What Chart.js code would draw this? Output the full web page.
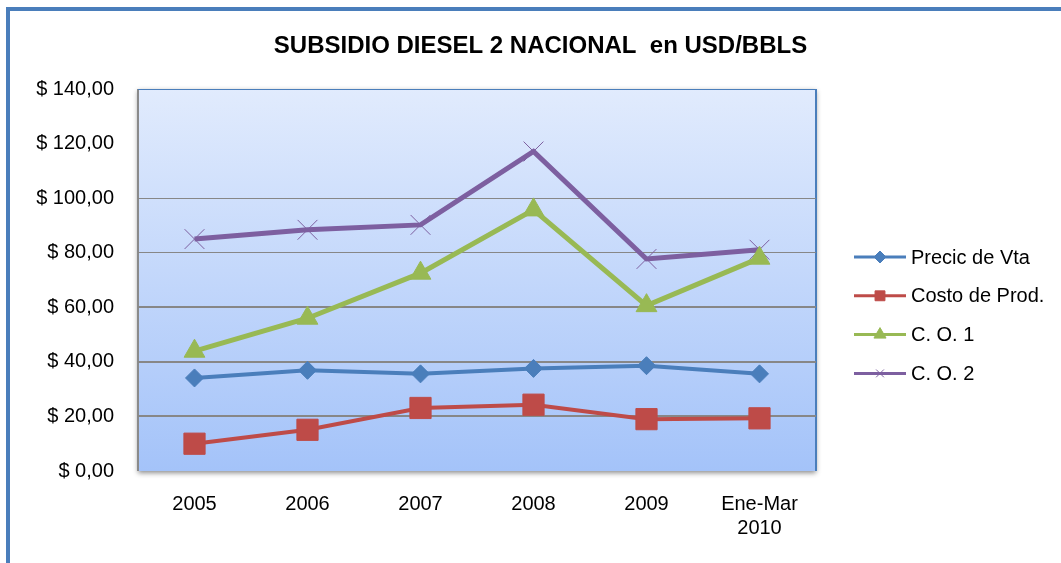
<!DOCTYPE html>
<html>
<head>
<meta charset="utf-8">
<script src="https://cdn.jsdelivr.net/npm/chart.js@4.4.1/dist/chart.umd.min.js"></script>
<style>
  html, body { margin: 0; padding: 0; background: #fff; }
  #wrap { width: 1061px; height: 563px; }
</style>
</head>
<body>
<div id="wrap"><canvas id="dieselChart" width="1061" height="563"></canvas></div>
<script>
const categories = ['2005', '2006', '2007', '2008', '2009', ['Ene-Mar', '2010']];
const precioVta = [34.1, 36.9, 35.6, 37.6, 38.6, 35.6];
const costoProd = [10.0, 15.1, 23.1, 24.3, 19.0, 19.3];
const co1 = [43.9, 56.0, 72.5, 95.7, 60.6, 78.0];
const co2 = [85.0, 88.4, 90.2, 117.1, 77.7, 81.1];
const yTickLabels = ['$ 0,00', '$ 20,00', '$ 40,00', '$ 60,00', '$ 80,00', '$ 100,00', '$ 120,00', '$ 140,00'];

const FONT = "'Liberation Sans', Arial, sans-serif";

// outer frame + plot area background with shadow
const backdrop = {
    id: 'backdrop',
    beforeDraw(chart) {
        const ctx = chart.ctx;
        const a = chart.chartArea;
        ctx.save();
        ctx.fillStyle = '#4a7ebb';
        ctx.fillRect(6, 7, chart.width, 4);
        ctx.fillRect(6, 7, 4, chart.height);

        const grad = ctx.createLinearGradient(0, a.top, 0, a.bottom);
        grad.addColorStop(0, '#e1ebfd');
        grad.addColorStop(1, '#a4c3f9');
        ctx.shadowColor = 'rgba(0,0,0,0.45)';
        ctx.shadowBlur = 5;
        ctx.shadowOffsetX = 0;
        ctx.shadowOffsetY = 2;
        ctx.fillStyle = grad;
        ctx.fillRect(a.left, a.top, a.right - a.left, a.bottom - a.top);
        ctx.restore();

        ctx.save();
        ctx.strokeStyle = '#8a8a8a';
        ctx.lineWidth = 2;
        ctx.beginPath();
        ctx.moveTo(a.left, a.top);
        ctx.lineTo(a.left, a.bottom);
        ctx.stroke();
        ctx.strokeStyle = '#4a7ebb';
        ctx.lineWidth = 1;
        ctx.beginPath();
        ctx.moveTo(a.left, a.top + 0.5);
        ctx.lineTo(a.right, a.top + 0.5);
        ctx.stroke();
        ctx.lineWidth = 2;
        ctx.beginPath();
        ctx.moveTo(a.right, a.top);
        ctx.lineTo(a.right, a.bottom);
        ctx.stroke();
        ctx.restore();
    }
};

// legend on the right: line with marker, like the spreadsheet legend
const sideLegend = {
    id: 'sideLegend',
    afterDraw(chart) {
        const ctx = chart.ctx;
        const x0 = 854, x1 = 906, tx = 911;
        const y0 = 257, step = 38.8;
        const sizes = [6, 7, 7, 5.5];
        chart.data.datasets.forEach((ds, i) => {
            const y = y0 + i * step;
            ctx.save();
            ctx.strokeStyle = ds.borderColor;
            ctx.lineWidth = 3;
            ctx.beginPath();
            ctx.moveTo(x0, y);
            ctx.lineTo(x1, y);
            ctx.stroke();
            ctx.fillStyle = ds.pointBackgroundColor;
            ctx.strokeStyle = ds.pointBorderColor;
            ctx.lineWidth = 1;
            Chart.helpers.drawPoint(ctx, {pointStyle: ds.pointStyle, radius: sizes[i], borderWidth: 1, rotation: 0}, (x0 + x1) / 2, y);
            ctx.fillStyle = '#000';
            ctx.font = '20px ' + FONT;
            ctx.textBaseline = 'middle';
            ctx.textAlign = 'left';
            ctx.fillText(ds.label, tx, y + 1);
            ctx.restore();
        });
    }
};

const ctx = document.getElementById('dieselChart').getContext('2d');
const dieselChart = new Chart(ctx, {
    type: 'line',
    data: {
        labels: categories,
        datasets: [
            {
                label: 'Precic de Vta',
                data: precioVta,
                borderColor: '#4a7ebb',
                pointBackgroundColor: '#4a7ebb',
                pointBorderColor: '#4a7ebb',
                pointStyle: 'rectRot',
                pointRadius: 9,
                borderWidth: 4,
                pointBorderWidth: 1,
            },
            {
                label: 'Costo de Prod.',
                data: costoProd,
                borderColor: '#be4b48',
                pointBackgroundColor: '#be4b48',
                pointBorderColor: '#be4b48',
                pointStyle: 'rect',
                pointRadius: 15,
                borderWidth: 4,
                pointBorderWidth: 1,
            },
            {
                label: 'C. O. 1',
                data: co1,
                borderColor: '#98b954',
                pointBackgroundColor: '#98b954',
                pointBorderColor: '#98b954',
                pointStyle: 'triangle',
                pointRadius: 12,
                borderWidth: 5,
                pointBorderWidth: 1,
            },
            {
                label: 'C. O. 2',
                data: co2,
                borderColor: '#7d5fa0',
                pointBackgroundColor: '#7d5fa0',
                pointBorderColor: '#7d5fa0',
                pointStyle: 'crossRot',
                pointRadius: 14,
                borderWidth: 5,
                pointBorderWidth: 1,
            }
        ]
    },
    options: {
        responsive: false,
        animation: false,
        layout: { padding: { left: 20, top: 0, right: 0, bottom: 0 } },
        elements: { line: { tension: 0 } },
        plugins: {
            legend: { display: false },
            tooltip: { enabled: false },
            title: {
                display: true,
                text: 'SUBSIDIO DIESEL 2 NACIONAL  en USD/BBLS',
                color: '#000',
                font: { family: FONT, size: 24, weight: 'bold', lineHeight: 1.2 },
                padding: { top: 32, bottom: 28.2 }
            }
        },
        scales: {
            x: {
                offset: true,
                grid: { display: false, drawTicks: false },
                border: { display: false },
                ticks: {
                    color: '#000',
                    padding: 22,
                    maxRotation: 0,
                    font: { family: FONT, size: 20, lineHeight: 1.17 }
                },
                afterFit(scale) { scale.height = 92; }
            },
            y: {
                min: 0,
                max: 140,
                border: { display: false },
                grid: {
                    drawTicks: false,
                    color: c => (c.tick.value === 0 || c.tick.value >= 120) ? 'rgba(0,0,0,0)' : '#878787',
                    lineWidth: c => (c.tick.value >= 80 ? 1 : 2)
                },
                ticks: {
                    stepSize: 20,
                    padding: 24,
                    color: '#000',
                    font: { family: FONT, size: 20 },
                    callback: v => yTickLabels[Math.round(v / 20)]
                },
                afterFit(scale) { scale.width = 118; }
            },
            yPad: {
                position: 'right',
                display: true,
                grid: { display: false, drawTicks: false },
                border: { display: false },
                ticks: { display: false },
                afterFit(scale) { scale.width = 245; }
            }
        }
    },
    plugins: [backdrop, sideLegend]
});
</script>
</body>
</html>
